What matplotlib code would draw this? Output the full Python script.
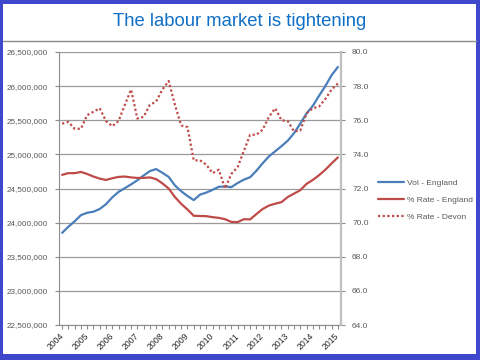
import matplotlib
matplotlib.use("Agg")
import matplotlib.pyplot as plt
from matplotlib.patches import Rectangle
from matplotlib.lines import Line2D
import matplotlib.ticker as mticker
import matplotlib.transforms as mtransforms
import numpy as np

# ---------------- data ----------------
title = "The labour market is tightening"
years = ["2004", "2005", "2006", "2007", "2008", "2009", "2010",
         "2011", "2012", "2013", "2014", "2015"]
# quarterly series, 2004 Q1 .. 2015 Q1 (45 points)
vol_england = [23.85, 23.94, 24.02, 24.11, 24.145, 24.16, 24.20, 24.27, 24.37,
               24.45, 24.505, 24.56, 24.62, 24.69, 24.755, 24.785, 24.73, 24.67,
               24.545, 24.46, 24.39, 24.33, 24.41, 24.44, 24.48, 24.525, 24.53,
               24.52, 24.58, 24.63, 24.665, 24.76, 24.87, 24.97, 25.045, 25.12,
               25.20, 25.31, 25.45, 25.60, 25.71, 25.86, 26.00, 26.16, 26.28]
vol_england = [v * 1e6 for v in vol_england]
rate_england = [72.8, 72.9, 72.9, 72.97, 72.85, 72.7, 72.58, 72.5, 72.6, 72.68,
                72.7, 72.65, 72.62, 72.62, 72.65, 72.55, 72.3, 72.0, 71.5, 71.1,
                70.77, 70.4, 70.39, 70.38, 70.32, 70.28, 70.2, 70.04, 70.03, 70.2,
                70.19, 70.5, 70.8, 71.0, 71.11, 71.2, 71.5, 71.7, 71.9, 72.27,
                72.5, 72.78, 73.1, 73.47, 73.82]
rate_devon = [75.8, 75.9, 75.5, 75.5, 76.3, 76.5, 76.7, 75.95, 75.65, 75.95,
              76.9, 77.8, 76.1, 76.2, 76.9, 77.1, 77.8, 78.3, 76.9, 75.7, 75.6,
              73.65, 73.65, 73.4, 72.9, 73.1, 72.0, 72.85, 73.25, 74.2, 75.15,
              75.15, 75.45, 76.2, 76.7, 76.0, 75.95, 75.35, 75.4, 76.4, 76.7,
              76.8, 77.25, 77.8, 78.15]
series_labels = ["Vol - England", "% Rate - England", "% Rate - Devon"]

# ---------------- style ----------------
BLUE = "#4A7EBB"
RED = "#BE4B48"
BORDER = "#3F48CC"
TXT = "#595959"
plt.rcParams['font.family'] = ['Liberation Sans', 'DejaVu Sans']

W, H = 480, 360
fig = plt.figure(figsize=(W / 100, H / 100), dpi=100)
fig.patch.set_facecolor(BORDER)
bg = Rectangle((3 / W, 6 / H), (476 - 3) / W, (356 - 6) / H,
               transform=fig.transFigure, facecolor="white",
               edgecolor="none", zorder=-10)
fig.patches.append(bg)
fig.add_artist(Line2D([3 / W, 476 / W], [1 - 41 / H, 1 - 41 / H],
                      transform=fig.transFigure, color="#8C8C8C", lw=1.0))
fig.text(240 / W, 1 - 22 / H, title, ha="center", va="center",
         fontsize=13.3, color="#0F6FC6")

left, right, top, bottom = 59, 341, 52, 325
ax = fig.add_axes([left / W, 1 - bottom / H, (right - left) / W, (bottom - top) / H])
ax2 = ax.twinx()

x = np.arange(len(vol_england))
l1, = ax.plot(x, vol_england, color=BLUE, lw=1.6, solid_capstyle="round", zorder=3)
l2, = ax2.plot(x, rate_england, color=RED, lw=1.6, solid_capstyle="round")
l3, = ax2.plot(x, rate_devon, color=RED, lw=1.6, linestyle=(0, (1, 1.1)),
               dash_capstyle="butt")

ax.set_xlim(-0.5, len(x) - 0.5)
ax.set_ylim(22.5e6, 26.5e6)
ax2.set_ylim(64, 80)
ax.set_yticks(np.arange(22.5e6, 26.5e6 + 1, 0.5e6))
ax2.set_yticks(np.arange(64, 80.1, 2))
ax.yaxis.set_major_formatter(mticker.FuncFormatter(lambda v, p: f"{v:,.0f}"))
ax2.yaxis.set_major_formatter(mticker.FuncFormatter(lambda v, p: f"{v:.1f}"))

ax.set_xticks(x)
labels = [""] * len(x)
for i, yl in enumerate(years):
    if 4 * i < len(x):
        labels[4 * i] = yl
ax.set_xticklabels(labels)
for lab in ax.get_xticklabels():
    lab.set_rotation(45)
    lab.set_ha("right")
    lab.set_va("center")
    lab.set_rotation_mode("anchor")
    lab.set_transform(lab.get_transform() +
                      mtransforms.ScaledTranslation(7 / 100, 0, fig.dpi_scale_trans))

ax.grid(axis="y", color="#9A9A9A", lw=0.9)
ax.set_axisbelow(True)
for a in (ax, ax2):
    a.spines["top"].set_visible(False)
    a.set_facecolor("none")
ax.spines["left"].set_color("#8C8C8C")
ax.spines["bottom"].set_color("#8C8C8C")
ax.spines["right"].set_visible(False)
ax2.spines["left"].set_visible(False)
ax2.spines["bottom"].set_visible(False)
ax2.spines["right"].set_color("#BFBFBF")
ax2.spines["right"].set_linewidth(1.6)

ax.tick_params(axis="y", length=3, width=0.8, color="#8C8C8C", pad=5,
               labelsize=5.9, labelcolor=TXT)
ax.tick_params(axis="x", length=3, width=0.8, color="#8C8C8C", pad=4,
               labelsize=6.2, labelcolor="#262626")
ax2.tick_params(axis="y", length=3, width=0.8, color="#8C8C8C", pad=5,
                labelsize=6.0, labelcolor=TXT)

leg = ax2.legend([l1, l2, l3], series_labels, loc="center left",
                 bbox_to_anchor=(378 / W, 1 - 200 / H),
                 bbox_transform=fig.transFigure, frameon=False,
                 fontsize=6.0, handlelength=3.1, handletextpad=0.35,
                 labelspacing=1.1, borderpad=0, borderaxespad=0)
for t in leg.get_texts():
    t.set_color(TXT)

fig.savefig("out.png", dpi=100, facecolor=fig.get_facecolor())
